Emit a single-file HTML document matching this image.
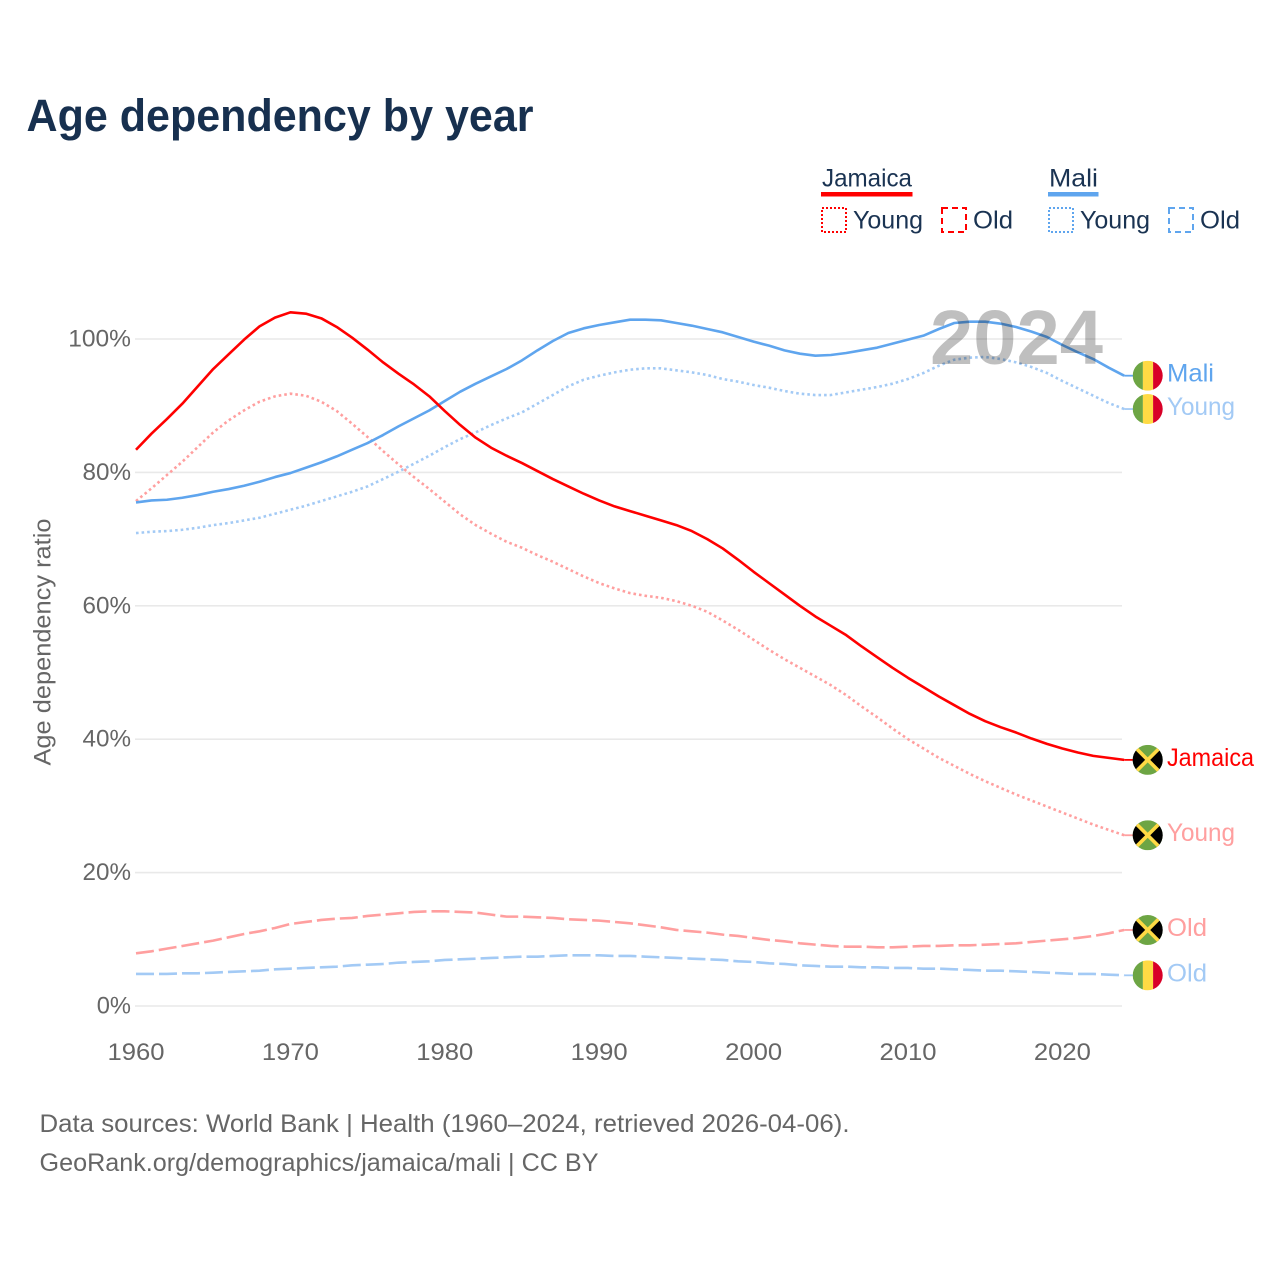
<!DOCTYPE html>
<html lang="en">
<head>
<meta charset="utf-8">
<title>Age dependency by year</title>
<style>
html,body{margin:0;padding:0;background:#fff}
svg{display:block}
text{font-family:"Liberation Sans",sans-serif}
</style>
</head>
<body>
<svg id="chart" xmlns="http://www.w3.org/2000/svg" width="1280" height="1280" viewBox="0 0 1280 1280">
  <defs>
    <clipPath id="flag-clip"><circle cx="0" cy="0" r="15"></circle></clipPath>
  </defs>
  <rect x="0" y="0" width="1280" height="1280" fill="#fff"></rect>
  <text x="26.500" y="131" font-size="45" font-weight="bold" fill="#17304f" textLength="507" lengthAdjust="spacingAndGlyphs">Age dependency by year</text>

  <g font-size="25" fill="#1a3352">
    <text x="822" y="186.500" textLength="90" lengthAdjust="spacingAndGlyphs">Jamaica</text>
    <rect x="821" y="192" width="91.500" height="4.500" fill="#ff0000"></rect>
    <rect x="822" y="208" width="24" height="24" fill="none" stroke="#ff0000" stroke-width="2" stroke-dasharray="2 2"></rect>
    <text x="853" y="228.500" textLength="70" lengthAdjust="spacingAndGlyphs">Young</text>
    <rect x="942" y="208" width="24" height="24" fill="none" stroke="#ff0000" stroke-width="2" stroke-dasharray="6 4"></rect>
    <text x="973" y="228.500" textLength="40" lengthAdjust="spacingAndGlyphs">Old</text>
    <text x="1049" y="186.500" textLength="49" lengthAdjust="spacingAndGlyphs">Mali</text>
    <rect x="1048" y="192" width="50.500" height="4.500" fill="#5fa5ee"></rect>
    <rect x="1049" y="208" width="24" height="24" fill="none" stroke="#5fa5ee" stroke-width="2" stroke-dasharray="2 2"></rect>
    <text x="1080" y="228.500" textLength="70" lengthAdjust="spacingAndGlyphs">Young</text>
    <rect x="1169" y="208" width="24" height="24" fill="none" stroke="#5fa5ee" stroke-width="2" stroke-dasharray="6 4"></rect>
    <text x="1200" y="228.500" textLength="40" lengthAdjust="spacingAndGlyphs">Old</text>
  </g>

  <g id="grid"></g>
  <g id="yticks"></g>
  <g id="xticks"></g>
  <text transform="translate(50.500,642) rotate(-90)" text-anchor="middle" font-size="24" fill="#666" textLength="247" lengthAdjust="spacingAndGlyphs">Age dependency ratio</text>

  <g id="series"></g>
  <text x="1103" y="364" text-anchor="end" font-size="77" font-weight="bold" fill="#000" fill-opacity="0.25" textLength="173" lengthAdjust="spacingAndGlyphs">2024</text>
  <g id="ends"></g>

  <text x="39.500" y="1132" font-size="25" fill="#666" textLength="810" lengthAdjust="spacingAndGlyphs">Data sources: World Bank | Health (1960–2024, retrieved 2026-04-06).</text>
  <text x="39.500" y="1171" font-size="25" fill="#666" textLength="559" lengthAdjust="spacingAndGlyphs">GeoRank.org/demographics/jamaica/mali | CC BY</text>
</svg>
<script>
var startYear = 1960;
var xTickLabels = [1960, 1970, 1980, 1990, 2000, 2010, 2020];
var yTickLabels = [0, 20, 40, 60, 80, 100];
var jamaicaTotal = [83.4,85.8,88.0,90.3,92.9,95.5,97.7,99.9,101.9,103.2,104.0,103.8,103.1,101.8,100.2,98.4,96.5,94.8,93.2,91.4,89.2,87.1,85.2,83.7,82.5,81.4,80.2,79.0,77.9,76.8,75.8,74.9,74.2,73.5,72.8,72.1,71.2,70.0,68.6,66.9,65.1,63.4,61.7,60.0,58.4,57.0,55.6,53.9,52.3,50.7,49.2,47.8,46.4,45.1,43.8,42.7,41.8,41.0,40.1,39.3,38.6,38.0,37.5,37.2,36.9];
var jamaicaYoung = [75.7,77.6,79.6,81.6,83.8,86.0,87.8,89.3,90.6,91.4,91.8,91.5,90.6,89.2,87.3,85.3,83.2,81.2,79.3,77.5,75.6,73.7,72.1,70.8,69.6,68.7,67.6,66.6,65.5,64.4,63.4,62.6,61.9,61.5,61.2,60.7,60.0,59.1,57.8,56.4,54.9,53.4,52.0,50.7,49.4,48.1,46.6,44.9,43.3,41.6,40.0,38.6,37.2,36.0,34.8,33.7,32.7,31.7,30.8,29.9,29.0,28.1,27.2,26.4,25.6];
var jamaicaOld = [7.9,8.2,8.6,9.0,9.4,9.8,10.3,10.8,11.2,11.7,12.3,12.6,12.9,13.1,13.2,13.5,13.7,13.9,14.1,14.2,14.2,14.1,14.0,13.7,13.4,13.4,13.3,13.2,13.0,12.9,12.8,12.6,12.4,12.1,11.8,11.4,11.2,11.0,10.7,10.5,10.2,9.9,9.7,9.4,9.2,9.0,8.9,8.9,8.8,8.8,8.9,9.0,9.0,9.1,9.1,9.2,9.3,9.4,9.6,9.8,10.0,10.2,10.5,10.9,11.4];
var maliTotal = [75.5,75.8,75.9,76.2,76.6,77.1,77.5,78.0,78.6,79.3,79.9,80.7,81.5,82.4,83.4,84.4,85.6,86.9,88.1,89.3,90.7,92.1,93.3,94.4,95.5,96.8,98.3,99.7,100.9,101.6,102.1,102.5,102.9,102.9,102.8,102.4,102.0,101.5,101.0,100.3,99.6,99.0,98.3,97.8,97.5,97.6,97.9,98.3,98.7,99.3,99.9,100.5,101.5,102.4,102.6,102.6,102.3,101.8,101.1,100.3,99.1,98.0,97.0,95.7,94.5];
var maliYoung = [70.9,71.1,71.2,71.4,71.7,72.1,72.4,72.8,73.2,73.8,74.4,75.0,75.7,76.4,77.1,77.9,79.0,80.1,81.3,82.5,83.8,85.0,86.0,87.1,88.1,89.0,90.3,91.6,92.9,93.9,94.5,95.0,95.4,95.6,95.6,95.3,95.0,94.6,94.0,93.6,93.1,92.7,92.2,91.8,91.6,91.6,92.0,92.4,92.8,93.3,94.0,94.9,96.0,96.9,97.2,97.3,97.0,96.5,95.8,94.9,93.7,92.6,91.5,90.4,89.5];
var maliOld = [4.8,4.8,4.8,4.9,4.9,5.0,5.1,5.2,5.3,5.5,5.6,5.7,5.8,5.9,6.1,6.2,6.3,6.5,6.6,6.7,6.9,7.0,7.1,7.2,7.3,7.4,7.4,7.5,7.6,7.6,7.6,7.5,7.5,7.4,7.3,7.2,7.1,7.0,6.9,6.7,6.6,6.4,6.3,6.1,6.0,5.9,5.9,5.8,5.8,5.7,5.7,5.6,5.6,5.5,5.4,5.3,5.3,5.2,5.1,5.0,4.9,4.8,4.8,4.7,4.6];

var NS = 'http://www.w3.org/2000/svg';
function xScale(year) { return 136 + (year - 1960) * 15.44; }
function yScale(v) { return 1006 - v * 6.67; }
function make(tag, parent, props, txt) {
  var el = document.createElementNS(NS, tag);
  for (var k in props) el.setAttribute(k, props[k]);
  if (txt !== undefined) el.textContent = txt;
  parent.appendChild(el);
  return el;
}
function yLabelWidth(s) { return (s.length - 1) * 14.25 + 20; }

var gridG = document.getElementById('grid');
var yG = document.getElementById('yticks');
var xG = document.getElementById('xticks');
var seriesG = document.getElementById('series');
var endsG = document.getElementById('ends');

yTickLabels.forEach(function (t) {
  var line = make('line', gridG, {x1: 135, x2: 1122, y1: yScale(t), y2: yScale(t), stroke: '#e9e9e9', 'stroke-width': 1.6});
  
  
  var s = t + '%';
  var lab = make('text', yG, {x: 131, y: yScale(t) + 7.5, 'text-anchor': 'end', 'font-size': 24, fill: '#666', textLength: yLabelWidth(s), lengthAdjust: 'spacingAndGlyphs'}, s);
  
  
});
xTickLabels.forEach(function (t) {
  var lab = make('text', xG, {x: xScale(t), y: 1060, 'text-anchor': 'middle', 'font-size': 24, fill: '#666', textLength: 57, lengthAdjust: 'spacingAndGlyphs'}, String(t));
  
  
});

function drawSeries(name, values, color, dash) {
  var d = values.map(function (v, i) {
    return (i ? 'L' : 'M') + xScale(startYear + i).toFixed(2) + ' ' + yScale(v).toFixed(2);
  }).join(' ');
  var props = {d: d, fill: 'none', stroke: color, 'stroke-width': 2.6, 'stroke-linejoin': 'round'};
  if (dash) props['stroke-dasharray'] = dash;
  var path = make('path', seriesG, props);
  
  
  var last = values[values.length - 1];
  var lastX = xScale(startYear + values.length - 1);
  var tail = make('line', seriesG, {x1: lastX, x2: lastX + 9, y1: yScale(last), y2: yScale(last), stroke: color, 'stroke-width': 1.8});
  
  
}

function drawFlag(g, country) {
  var c = make('g', g, {'clip-path': 'url(#flag-clip)'});
  if (country === 'mali') {
    make('rect', c, {x: -15, y: -15, width: 10.2, height: 30, fill: '#6da544'});
    make('rect', c, {x: -4.8, y: -15, width: 10.2, height: 30, fill: '#ffda44'});
    make('rect', c, {x: 5.4, y: -15, width: 10, height: 30, fill: '#d80027'});
  } else {
    make('rect', c, {x: -15, y: -15, width: 30, height: 30, fill: '#6da544'});
    make('path', c, {d: 'M-16 -16 L0 0 L-16 16 Z M16 -16 L0 0 L16 16 Z', fill: '#000'});
    make('path', c, {d: 'M-15 -15 L15 15 M15 -15 L-15 15', stroke: '#ffda44', 'stroke-width': 3.6, fill: 'none'});
  }
}

function drawEnd(name, country, label, values, color, width) {
  var v = values[values.length - 1];
  var y = yScale(v);
  var g = make('g', endsG, {transform: 'translate(1147.7 ' + y.toFixed(2) + ')'});
  
  
  drawFlag(g, country);
  var t = make('text', endsG, {x: 1167, y: y + 6, 'font-size': 25, fill: color, textLength: width, lengthAdjust: 'spacingAndGlyphs'}, label);
  
  
}

drawSeries('mali-old', maliOld, '#a3caf5', '18 5');
drawSeries('jamaica-old', jamaicaOld, '#ff9f9f', '18 5');
drawSeries('mali-young', maliYoung, '#a3caf5', '2.6 3');
drawSeries('jamaica-young', jamaicaYoung, '#ff9f9f', '2.6 3');
drawSeries('mali-total', maliTotal, '#5fa5ee');
drawSeries('jamaica-total', jamaicaTotal, '#ff0000');

drawEnd('mali-total', 'mali', 'Mali', maliTotal, '#5fa5ee', 47);
drawEnd('mali-young', 'mali', 'Young', maliYoung, '#a3caf5', 68);
drawEnd('jamaica-total', 'jamaica', 'Jamaica', jamaicaTotal, '#ff0000', 87);
drawEnd('jamaica-young', 'jamaica', 'Young', jamaicaYoung, '#ff9f9f', 68);
drawEnd('jamaica-old', 'jamaica', 'Old', jamaicaOld, '#ff9f9f', 40);
drawEnd('mali-old', 'mali', 'Old', maliOld, '#a3caf5', 40);
</script>
</body>
</html>
